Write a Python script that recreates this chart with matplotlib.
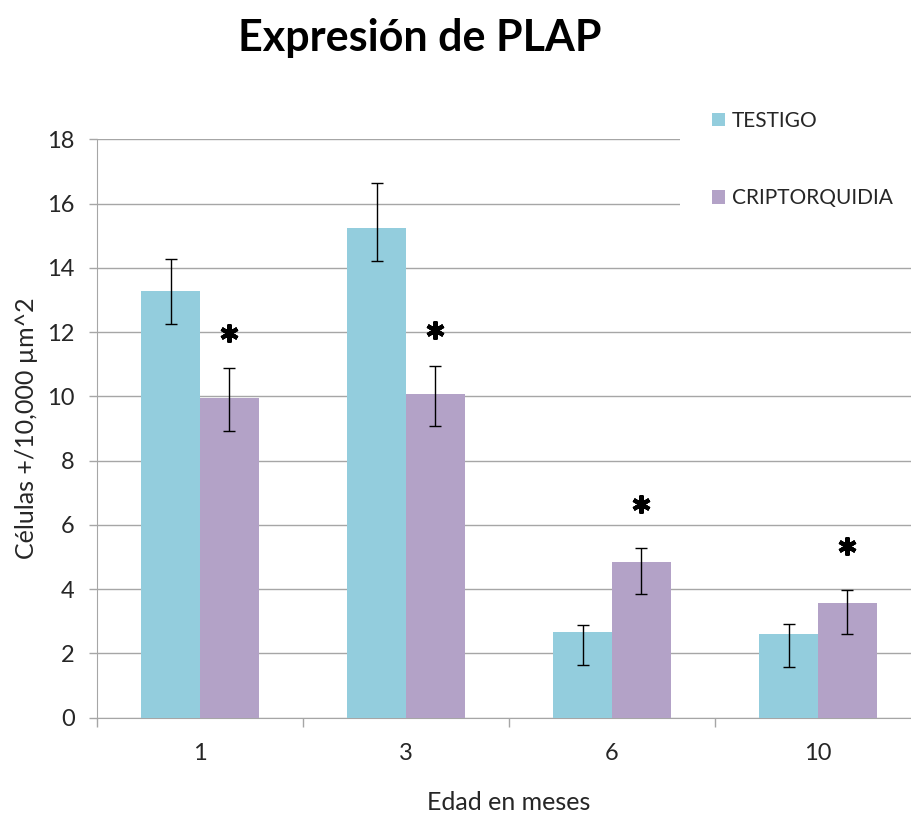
import matplotlib.pyplot as plt
import matplotlib.patches as mpatches
import numpy as np

plt.rcParams['font.family'] = ['Lato', 'DejaVu Sans']

# ---------------- data ----------------
meses = ['1', '3', '6', '10']
testigo = [13.27, 15.24, 2.65, 2.61]
testigo_err_low = [1.01, 1.02, 1.02, 1.04]
testigo_err_up = [0.99, 1.39, 0.23, 0.31]
cripto = [9.95, 10.08, 4.84, 3.56]
cripto_err_low = [1.02, 1.02, 1.01, 0.96]
cripto_err_up = [0.92, 0.85, 0.43, 0.40]
star_y = [11.97, 12.07, 6.65, 5.33]   # significance marks above CRIPTORQUIDIA

c_test = '#93CDDD'
c_crip = '#B3A2C7'
grid_c = '#A6A6A6'
txt_c = '#262626'

fig = plt.figure(figsize=(9.11, 8.17), dpi=100)
ax = fig.add_axes([97 / 911, 99.5 / 817, 824 / 911, 578.2 / 817])

x = np.arange(len(meses))
w = 0.2864

ax.bar(x - w / 2, testigo, w, color=c_test, label='TESTIGO', zorder=3,
       yerr=[testigo_err_low, testigo_err_up], capsize=4.3,
       error_kw=dict(ecolor='black', elinewidth=1.0, capthick=1.0, zorder=4))
ax.bar(x + w / 2, cripto, w, color=c_crip, label='CRIPTORQUIDIA', zorder=3,
       yerr=[cripto_err_low, cripto_err_up], capsize=4.3,
       error_kw=dict(ecolor='black', elinewidth=1.0, capthick=1.0, zorder=4))

# asterisks
ax.plot(x + w / 2, star_y, linestyle='none', marker=(6, 2, 0), markersize=13,
        markeredgewidth=3.0, color='black', zorder=5, clip_on=False)

ax.set_xlim(-0.5, 3.5)
ax.set_ylim(0, 18)
ax.set_yticks(np.arange(0, 19, 2))
ax.set_xticks(x)
ax.set_xticklabels(meses)
ax.set_xticks(np.arange(-0.5, 4, 1), minor=True)

ax.grid(axis='y', color=grid_c, linewidth=1.0, zorder=0)
ax.set_axisbelow(True)
for s in ['top', 'right']:
    ax.spines[s].set_visible(False)
ax.spines['left'].set_color(grid_c)
ax.spines['bottom'].set_color(grid_c)

ax.tick_params(axis='y', which='major', length=6, color=grid_c, width=1.0,
               labelsize=17, labelcolor=txt_c, pad=10)
ax.tick_params(axis='x', which='major', length=0, labelsize=17,
               labelcolor=txt_c, pad=18)
ax.tick_params(axis='x', which='minor', length=6.5, color=grid_c, width=1.0)

ax.set_ylabel('Células +/10,000 µm^2', fontsize=18, color=txt_c, labelpad=7)
ax.set_xlabel('Edad en meses', fontsize=18, color=txt_c, labelpad=20)

fig.text(420 / 911, 1 - 38 / 817, 'Expresión de PLAP', ha='center', va='center',
         fontsize=31, fontweight='bold', color='black')

# white block behind the legend (covers the upper gridlines)
ax.add_patch(mpatches.Rectangle((680 / 911, 1 - 240 / 817), 1, 240 / 817,
                                transform=fig.transFigure, facecolor='white',
                                edgecolor='none', zorder=2, clip_on=False))

leg = fig.legend(loc='upper left', bbox_to_anchor=(712 / 911, 1 - 111 / 817),
                 frameon=False, fontsize=15, handlelength=0.6, handleheight=0.6,
                 handletextpad=0.35, labelspacing=2.75, borderpad=0,
                 borderaxespad=0)
for t in leg.get_texts():
    t.set_color(txt_c)

fig.savefig('out.png', dpi=100)
